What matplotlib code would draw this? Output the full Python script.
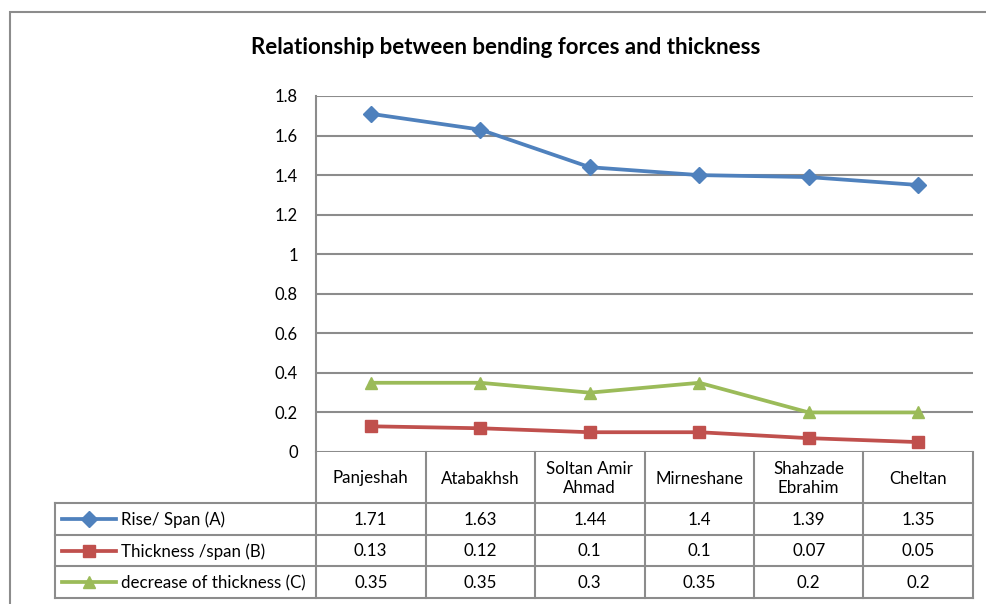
import matplotlib.pyplot as plt
from matplotlib.lines import Line2D
from matplotlib.patches import Rectangle

# data
sites = ['Panjeshah', 'Atabakhsh', 'Soltan Amir\nAhmad', 'Mirneshane', 'Shahzade\nEbrahim', 'Cheltan']
rise_span = [1.71, 1.63, 1.44, 1.4, 1.39, 1.35]
thick_span = [0.13, 0.12, 0.1, 0.1, 0.07, 0.05]
decrease = [0.35, 0.35, 0.3, 0.35, 0.2, 0.2]
series_names = ['Rise/ Span (A)', 'Thickness /span (B)', 'decrease of thickness (C)']
yticks = [0, 0.2, 0.4, 0.6, 0.8, 1, 1.2, 1.4, 1.6, 1.8]

colors = ['#4F81BD', '#C0504D', '#9BBB59']
markers = ['D', 's', '^']
msizes = [8, 8, 8.5]
grid_c = '#8C8C8C'

plt.rcParams['font.family'] = ['Lato', 'DejaVu Sans']

W, H = 987, 604
fig = plt.figure(figsize=(W / 100, H / 100), dpi=100)


def fx(x):
    return x / W


def fy(y):
    return 1 - y / H


# outer chart border
fig.add_artist(Rectangle((fx(10), fy(1000)), fx(1200), fy(12) - fy(1000),
                         transform=fig.transFigure, fill=False,
                         edgecolor='#8C8C8C', lw=1.5))

left, right, top, bottom = 316, 973, 96, 452
ax = fig.add_axes([fx(left), fy(bottom), fx(right) - fx(left), fy(top) - fy(bottom)])

x = list(range(len(sites)))
all_series = [rise_span, thick_span, decrease]
for vals, c, m, ms in zip(all_series, colors, markers, msizes):
    ax.plot(x, vals, color=c, lw=2.7, marker=m, markersize=ms,
            markeredgecolor=c, markerfacecolor=c)

ax.set_xlim(-0.5, len(sites) - 0.5)
ax.set_ylim(0, 1.8)
ax.set_yticks(yticks)
ax.set_yticklabels([f'{t:g}' for t in yticks], fontsize=12)
ax.set_xticks([])
ax.tick_params(axis='y', length=0, pad=13)
ax.grid(axis='y', color=grid_c, lw=1.5)
ax.set_axisbelow(True)
for s in ['top', 'right', 'bottom']:
    ax.spines[s].set_visible(False)
ax.spines['left'].set_color(grid_c)
ax.spines['left'].set_linewidth(1.5)

fig.text(fx(506), fy(48), 'Relationship between bending forces and thickness',
         ha='center', va='center', fontsize=16, fontweight='bold')

# data table below the axes
col_w = (right - left) / len(sites)
edges = [left + i * col_w for i in range(len(sites) + 1)]
rows = [452, 503, 535, 566, 598]
leg_left = 55


def hline(x0, x1, y):
    fig.add_artist(Line2D([fx(x0), fx(x1)], [fy(y), fy(y)], transform=fig.transFigure,
                          color=grid_c, lw=1.5))


def vline(x, y0, y1):
    fig.add_artist(Line2D([fx(x), fx(x)], [fy(y0), fy(y1)], transform=fig.transFigure,
                          color=grid_c, lw=1.5))


hline(left, right, rows[1])
for r in rows[2:]:
    hline(leg_left, right, r)
hline(leg_left, left, rows[1])
vline(leg_left, rows[1], rows[4])
for i, e in enumerate(edges):
    vline(e, rows[0], rows[4])

for i, name in enumerate(sites):
    cx = (edges[i] + edges[i + 1]) / 2
    fig.text(fx(cx), fy((rows[0] + rows[1]) / 2 + 1), name, ha='center', va='center',
             fontsize=12.2, linespacing=1.25)
    for j, vals in enumerate(all_series):
        fig.text(fx(cx), fy((rows[j + 1] + rows[j + 2]) / 2 + 1), f'{vals[i]:g}',
                 ha='center', va='center', fontsize=12.2)

for j, (nm, c, m, ms) in enumerate(zip(series_names, colors, markers, msizes)):
    yc = (rows[j + 1] + rows[j + 2]) / 2
    fig.add_artist(Line2D([fx(62), fx(116)], [fy(yc), fy(yc)], transform=fig.transFigure,
                          color=c, lw=2.7))
    fig.add_artist(Line2D([fx(89)], [fy(yc)], transform=fig.transFigure, color=c,
                          marker=m, markersize=ms,
                          markeredgecolor=c, markerfacecolor=c))
    fig.text(fx(121), fy(yc + 1), nm, ha='left', va='center', fontsize=12.2)

fig.savefig('out.png', dpi=100)
